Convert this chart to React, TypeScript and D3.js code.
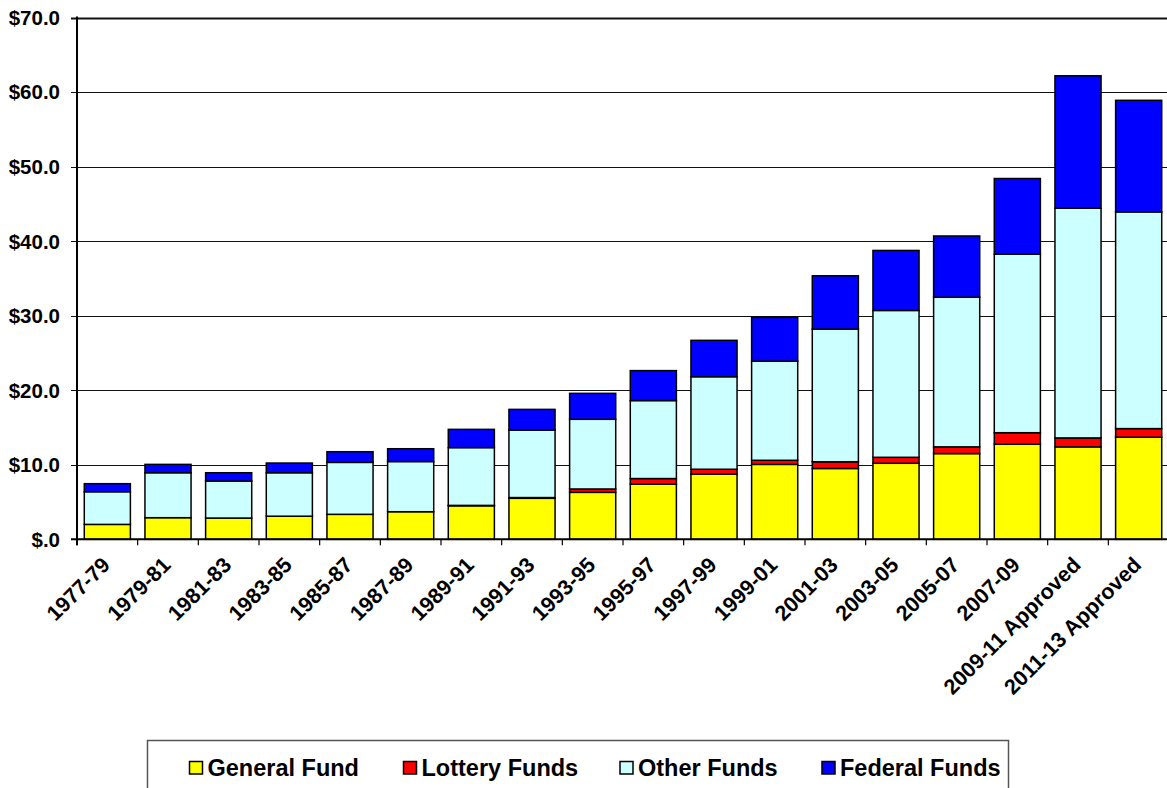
import React from "react";
import * as d3 from "d3";

const categories = [
  "1977-79", "1979-81", "1981-83", "1983-85", "1985-87", "1987-89", "1989-91",
  "1991-93", "1993-95", "1995-97", "1997-99", "1999-01", "2001-03", "2003-05",
  "2005-07", "2007-09", "2009-11 Approved", "2011-13 Approved",
];
const generalFund = [2.0, 2.9, 2.85, 3.1, 3.35, 3.7, 4.5, 5.5, 6.3, 7.4, 8.75, 10.05, 9.5, 10.2, 11.5, 12.75, 12.4, 13.7];
const lotteryFunds = [0, 0, 0, 0, 0, 0, 0.05, 0.1, 0.45, 0.75, 0.65, 0.55, 0.9, 0.8, 0.9, 1.55, 1.2, 1.15];
const otherFunds = [4.38, 6.03, 4.97, 5.83, 6.97, 6.73, 7.75, 9.06, 9.35, 10.46, 12.41, 13.3, 17.8, 19.7, 20.08, 23.96, 30.81, 29.07];
const federalFunds = [1.08, 1.12, 1.11, 1.3, 1.43, 1.72, 2.45, 2.77, 3.48, 4.02, 4.88, 5.87, 7.15, 8.05, 8.21, 10.14, 17.77, 14.97];
const seriesNames = ["General Fund", "Lottery Funds", "Other Funds", "Federal Funds"];
const seriesColors = ["#FFFF00", "#FF0000", "#CCFFFF", "#0000FF"];
const yTicks = [0, 10, 20, 30, 40, 50, 60, 70];

const W = 1167;
const H = 788;
const left = 77;
const right = 1169;
const top = 17.5;
const bottom = 539.3;
const FONT = "'Liberation Sans', Arial, Helvetica, sans-serif";

export default function App() {
  const x = d3.scaleBand<string>().domain(categories).range([left, right]).paddingInner(0.24).paddingOuter(0.12);
  const xb = d3.scaleBand<string>().domain(categories).range([left, right]);
  const y = d3.scaleLinear().domain([0, 70]).range([bottom, top]);

  const rows = categories.map((c, i) => ({
    cat: c,
    s0: generalFund[i],
    s1: lotteryFunds[i],
    s2: otherFunds[i],
    s3: federalFunds[i],
  }));
  const stack = d3.stack<any>().keys(["s0", "s1", "s2", "s3"]);
  const layers = stack(rows);

  const legendX = [189.5, 403.5, 620, 822];

  return (
    <svg width={W} height={H} style={{ position: "absolute", left: 0, top: 0, background: "#fff" }} fontFamily={FONT}>
      {yTicks.map((t) => (
        <line key={"g" + t} x1={left - 6} x2={W} y1={Math.round(y(t)) + 0.5} y2={Math.round(y(t)) + 0.5}
          stroke="#111" strokeWidth={t === 70 ? 2 : 1} />
      ))}
      {yTicks.map((t) => (
        <text key={"yl" + t} x={left - 17} y={y(t)} dy="0.36em" textAnchor="end" fontSize={20.5} fontWeight="bold">
          {t === 0 ? "$.0" : "$" + t.toFixed(1)}
        </text>
      ))}
      {layers.map((layer, li) => (
        <g key={"l" + li} fill={seriesColors[li]} stroke="#000" strokeWidth={1.5}>
          {layer.map((d, i) =>
            d[1] - d[0] > 0 ? (
              <rect key={i} x={x(categories[i])} width={x.bandwidth()} y={y(d[1])} height={y(d[0]) - y(d[1])} />
            ) : null
          )}
        </g>
      ))}
      <line x1={left} x2={left} y1={top - 1} y2={bottom + 6} stroke="#000" strokeWidth={2} />
      <line x1={left - 6} x2={W} y1={bottom} y2={bottom} stroke="#000" strokeWidth={2} />
      {categories.map((c, i) => (
        <line key={"t" + i} x1={xb(c)!} x2={xb(c)!} y1={bottom} y2={bottom + 6} stroke="#000" strokeWidth={1.2} />
      ))}
      {categories.map((c) => {
        const cx = (xb(c) as number) + xb.bandwidth() / 2 + 4;
        const cy = bottom + 27;
        return (
          <text key={"xl" + c} x={cx} y={cy} textAnchor="end" fontSize={21.5} fontWeight="bold"
            transform={`rotate(-45 ${cx} ${cy})`}>
            {c}
          </text>
        );
      })}
      <rect x={147.5} y={740.5} width={861} height={60} fill="#fff" stroke="#555" strokeWidth={1.5} />
      {seriesNames.map((n, i) => (
        <g key={"lg" + i}>
          <rect x={legendX[i]} y={761.5} width={13} height={12.5} fill={seriesColors[i]} stroke="#000" strokeWidth={1.5} />
          <text x={legendX[i] + 18} y={776} fontSize={23.5} fontWeight="bold">{n}</text>
        </g>
      ))}
    </svg>
  );
}
